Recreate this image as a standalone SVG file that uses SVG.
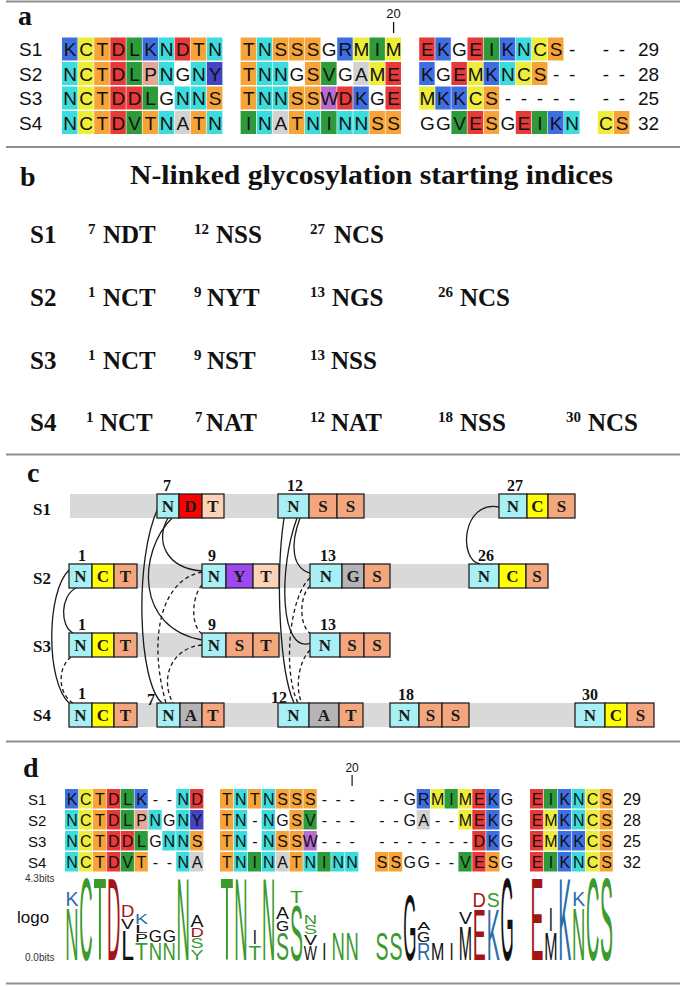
<svg xmlns="http://www.w3.org/2000/svg" xmlns:xlink="http://www.w3.org/1999/xlink" width="685" height="986" viewBox="0 0 685 986">
<style>
.sep{stroke:#8f8f8f;stroke-width:2}
.plab{font-family:"Liberation Serif","Times New Roman",serif;font-weight:bold;font-size:28px;fill:#111}
.ss{font-family:"Liberation Sans",Arial,sans-serif;fill:#111}
.sa{font-size:19px}
.sq{text-anchor:middle}
.sd{font-size:16px}
.tb{font-family:"Liberation Serif","Times New Roman",serif;font-weight:bold;fill:#111}
.bm{font-size:25px}
.bs{font-size:15px}
.fb{fill:#3d6fe3}.fy{fill:#eeee3a}.fo{fill:#f6a338}.fr{fill:#e83838}.fg{fill:#2e9b3a}.fc{fill:#3ddcdc}.fa{fill:#d2d2d2}.fp{fill:#e6a896}.fw{fill:#b86cd0}.fi{fill:#4343c4}
.bar{fill:#d9d9d9}
.bx{stroke:#222;stroke-width:1.3}
.xN{fill:#a8f0f3}.xC{fill:#ffff00}.xD{fill:#ff0000}.xT{fill:#fcd3b6}.xS{fill:#f4a77f}.xY{fill:#9e48ef}.xA{fill:#b4b4b4}
.ct{font-family:"Liberation Serif","Times New Roman",serif;font-weight:bold;font-size:17px;fill:#1a1a1a;text-anchor:middle}
.cn{font-family:"Liberation Serif","Times New Roman",serif;font-weight:bold;font-size:16px;fill:#111}
.cs{fill:none;stroke:#1a1a1a;stroke-width:1.3}
.cd{fill:none;stroke:#1a1a1a;stroke-width:1.3;stroke-dasharray:4 3}
.lg{font-family:"Liberation Sans",Arial,sans-serif;font-size:10px;text-anchor:middle}
.lG{fill:#3a9a2e}.lR{fill:#a31515}.lB{fill:#2a6ca8}.lK{fill:#111}
</style>
<defs>
<rect id="ra" width="15.5" height="23"/>
<rect id="rd" width="13.3" height="19.5"/>
</defs>

<g id="separators">
<line class="sep" x1="6" y1="1.5" x2="680" y2="1.5"/>
<line class="sep" x1="6" y1="147" x2="680" y2="147"/>
<line class="sep" x1="6" y1="454.5" x2="680" y2="454.5"/>
<line class="sep" x1="6" y1="741.5" x2="680" y2="741.5"/>
<line class="sep" x1="6" y1="983.5" x2="680" y2="983.5"/>
</g>

<!-- Panel a -->
<g id="panel-a">
<text class="plab" x="18" y="25">a</text>
<text class="ss sq" x="393.6" y="18" font-size="13">20</text>
<line x1="393.6" y1="22" x2="393.6" y2="33" stroke="#111" stroke-width="1.3"/>
<g id="a-cells">
<use href="#ra" x="62" y="37.5" class="fb"/><use href="#ra" x="78.1" y="37.5" class="fy"/><use href="#ra" x="94.2" y="37.5" class="fo"/><use href="#ra" x="110.3" y="37.5" class="fr"/><use href="#ra" x="126.4" y="37.5" class="fg"/><use href="#ra" x="142.5" y="37.5" class="fb"/><use href="#ra" x="158.6" y="37.5" class="fc"/><use href="#ra" x="174.7" y="37.5" class="fr"/><use href="#ra" x="190.8" y="37.5" class="fo"/><use href="#ra" x="206.9" y="37.5" class="fc"/>
<use href="#ra" x="240.6" y="37.5" class="fo"/><use href="#ra" x="256.7" y="37.5" class="fc"/><use href="#ra" x="272.8" y="37.5" class="fo"/><use href="#ra" x="288.9" y="37.5" class="fo"/><use href="#ra" x="305" y="37.5" class="fo"/><use href="#ra" x="337.2" y="37.5" class="fb"/><use href="#ra" x="353.3" y="37.5" class="fy"/><use href="#ra" x="369.4" y="37.5" class="fg"/><use href="#ra" x="385.5" y="37.5" class="fy"/>
<use href="#ra" x="419.2" y="37.5" class="fr"/><use href="#ra" x="435.3" y="37.5" class="fb"/><use href="#ra" x="467.5" y="37.5" class="fr"/><use href="#ra" x="483.6" y="37.5" class="fg"/><use href="#ra" x="499.7" y="37.5" class="fb"/><use href="#ra" x="515.8" y="37.5" class="fc"/><use href="#ra" x="531.9" y="37.5" class="fy"/><use href="#ra" x="548" y="37.5" class="fo"/>

<use href="#ra" x="62" y="62" class="fc"/><use href="#ra" x="78.1" y="62" class="fy"/><use href="#ra" x="94.2" y="62" class="fo"/><use href="#ra" x="110.3" y="62" class="fr"/><use href="#ra" x="126.4" y="62" class="fg"/><use href="#ra" x="142.5" y="62" class="fp"/><use href="#ra" x="158.6" y="62" class="fc"/><use href="#ra" x="190.8" y="62" class="fc"/><use href="#ra" x="206.9" y="62" class="fi"/>
<use href="#ra" x="240.6" y="62" class="fo"/><use href="#ra" x="256.7" y="62" class="fc"/><use href="#ra" x="272.8" y="62" class="fc"/><use href="#ra" x="305" y="62" class="fo"/><use href="#ra" x="321.1" y="62" class="fg"/><use href="#ra" x="353.3" y="62" class="fa"/><use href="#ra" x="369.4" y="62" class="fy"/><use href="#ra" x="385.5" y="62" class="fr"/>
<use href="#ra" x="419.2" y="62" class="fb"/><use href="#ra" x="451.4" y="62" class="fr"/><use href="#ra" x="467.5" y="62" class="fy"/><use href="#ra" x="483.6" y="62" class="fb"/><use href="#ra" x="499.7" y="62" class="fc"/><use href="#ra" x="515.8" y="62" class="fy"/><use href="#ra" x="531.9" y="62" class="fo"/>

<use href="#ra" x="62" y="86.5" class="fc"/><use href="#ra" x="78.1" y="86.5" class="fy"/><use href="#ra" x="94.2" y="86.5" class="fo"/><use href="#ra" x="110.3" y="86.5" class="fr"/><use href="#ra" x="126.4" y="86.5" class="fr"/><use href="#ra" x="142.5" y="86.5" class="fg"/><use href="#ra" x="174.7" y="86.5" class="fc"/><use href="#ra" x="190.8" y="86.5" class="fc"/><use href="#ra" x="206.9" y="86.5" class="fo"/>
<use href="#ra" x="240.6" y="86.5" class="fo"/><use href="#ra" x="256.7" y="86.5" class="fc"/><use href="#ra" x="272.8" y="86.5" class="fc"/><use href="#ra" x="288.9" y="86.5" class="fo"/><use href="#ra" x="305" y="86.5" class="fo"/><use href="#ra" x="321.1" y="86.5" class="fw"/><use href="#ra" x="337.2" y="86.5" class="fr"/><use href="#ra" x="353.3" y="86.5" class="fb"/><use href="#ra" x="385.5" y="86.5" class="fr"/>
<use href="#ra" x="419.2" y="86.5" class="fy"/><use href="#ra" x="435.3" y="86.5" class="fb"/><use href="#ra" x="451.4" y="86.5" class="fb"/><use href="#ra" x="467.5" y="86.5" class="fy"/><use href="#ra" x="483.6" y="86.5" class="fo"/>

<use href="#ra" x="62" y="111" class="fc"/><use href="#ra" x="78.1" y="111" class="fy"/><use href="#ra" x="94.2" y="111" class="fo"/><use href="#ra" x="110.3" y="111" class="fr"/><use href="#ra" x="126.4" y="111" class="fg"/><use href="#ra" x="142.5" y="111" class="fo"/><use href="#ra" x="158.6" y="111" class="fc"/><use href="#ra" x="174.7" y="111" class="fa"/><use href="#ra" x="190.8" y="111" class="fo"/><use href="#ra" x="206.9" y="111" class="fc"/>
<use href="#ra" x="240.6" y="111" class="fg"/><use href="#ra" x="256.7" y="111" class="fc"/><use href="#ra" x="272.8" y="111" class="fa"/><use href="#ra" x="288.9" y="111" class="fo"/><use href="#ra" x="305" y="111" class="fc"/><use href="#ra" x="321.1" y="111" class="fg"/><use href="#ra" x="337.2" y="111" class="fc"/><use href="#ra" x="353.3" y="111" class="fc"/><use href="#ra" x="369.4" y="111" class="fo"/><use href="#ra" x="385.5" y="111" class="fo"/>
<use href="#ra" x="451.4" y="111" class="fg"/><use href="#ra" x="467.5" y="111" class="fr"/><use href="#ra" x="483.6" y="111" class="fo"/><use href="#ra" x="515.8" y="111" class="fr"/><use href="#ra" x="531.9" y="111" class="fg"/><use href="#ra" x="548" y="111" class="fb"/><use href="#ra" x="564.1" y="111" class="fc"/>
<use href="#ra" x="597.8" y="111" class="fy"/><use href="#ra" x="613.9" y="111" class="fo"/>
</g>
<g id="a-text" class="ss sa">
<text x="19" y="56">S1</text>
<text x="19" y="80.5">S2</text>
<text x="19" y="105">S3</text>
<text x="19" y="129.5">S4</text>
<text class="sq" x="70.1 86.2 102.3 118.4 134.5 150.6 166.7 182.8 198.9 215.0 248.7 264.8 280.9 297.0 313.1 329.2 345.3 361.4 377.5 393.6 427.3 443.4 459.5 475.6 491.7 507.8 523.9 540.0 556.1 572.2 605.9 622.0" y="56">KCTDLKNDTNTNSSSGRMIMEKGEIKNCS---</text>
<text class="sq" x="70.1 86.2 102.3 118.4 134.5 150.6 166.7 182.8 198.9 215.0 248.7 264.8 280.9 297.0 313.1 329.2 345.3 361.4 377.5 393.6 427.3 443.4 459.5 475.6 491.7 507.8 523.9 540.0 556.1 572.2 605.9 622.0" y="80.5">NCTDLPNGNYTNNGSVGAMEKGEMKNCS----</text>
<text class="sq" x="70.1 86.2 102.3 118.4 134.5 150.6 166.7 182.8 198.9 215.0 248.7 264.8 280.9 297.0 313.1 329.2 345.3 361.4 377.5 393.6 427.3 443.4 459.5 475.6 491.7 507.8 523.9 540.0 556.1 572.2 605.9 622.0" y="105">NCTDDLGNNSTNNSSWDKGEMKKCS-------</text>
<text class="sq" x="70.1 86.2 102.3 118.4 134.5 150.6 166.7 182.8 198.9 215.0 248.7 264.8 280.9 297.0 313.1 329.2 345.3 361.4 377.5 393.6 427.3 443.4 459.5 475.6 491.7 507.8 523.9 540.0 556.1 572.2 605.9 622.0" y="129.5">NCTDVTNATNINATNINNSSGGVESGEIKNCS</text>
<text x="638" y="56">29</text>
<text x="638" y="80.5">28</text>
<text x="638" y="105">25</text>
<text x="638" y="129.5">32</text>
</g>
</g>

<!-- Panel b -->
<g id="panel-b" class="tb">
<text class="plab" x="20" y="186">b</text>
<text x="130" y="184" font-size="28" textLength="483" lengthAdjust="spacingAndGlyphs">N-linked glycosylation starting indices</text>
<g id="b-S1" class="bm">
<text x="30" y="243">S1</text>
<text class="bs" x="88" y="234">7</text><text x="103" y="243">NDT</text>
<text class="bs" x="194" y="234">12</text><text x="216" y="243">NSS</text>
<text class="bs" x="310" y="234">27</text><text x="334" y="243">NCS</text>
</g>
<g id="b-S2" class="bm">
<text x="30" y="306">S2</text>
<text class="bs" x="88" y="297">1</text><text x="103" y="306">NCT</text>
<text class="bs" x="194" y="297">9</text><text x="207" y="306">NYT</text>
<text class="bs" x="310" y="297">13</text><text x="332" y="306">NGS</text>
<text class="bs" x="438" y="297">26</text><text x="460" y="306">NCS</text>
</g>
<g id="b-S3" class="bm">
<text x="30" y="369">S3</text>
<text class="bs" x="88" y="360">1</text><text x="103" y="369">NCT</text>
<text class="bs" x="194" y="360">9</text><text x="207" y="369">NST</text>
<text class="bs" x="310" y="360">13</text><text x="331" y="369">NSS</text>
</g>
<g id="b-S4" class="bm">
<text x="30" y="431">S4</text>
<text class="bs" x="86" y="422">1</text><text x="100" y="431">NCT</text>
<text class="bs" x="195" y="422">7</text><text x="206" y="431">NAT</text>
<text class="bs" x="310" y="422">12</text><text x="331" y="431">NAT</text>
<text class="bs" x="438" y="422">18</text><text x="460" y="431">NSS</text>
<text class="bs" x="566" y="422">30</text><text x="588" y="431">NCS</text>
</g>
</g>

<!-- Panel c -->
<g id="panel-c">
<text class="plab" x="27" y="482">c</text>
<g class="tb" font-size="17">
<text x="33" y="515">S1</text>
<text x="33" y="584">S2</text>
<text x="33" y="652">S3</text>
<text x="33" y="721">S4</text>
</g>
<g id="bars">
<rect class="bar" x="70" y="494" width="505" height="24"/>
<rect class="bar" x="70" y="564" width="478" height="24"/>
<rect class="bar" x="70" y="633" width="320" height="24"/>
<rect class="bar" x="70" y="703" width="584" height="24"/>
</g>
<g id="connectors">
<path class="cs" d="M76,588 C60,596 60,626 73,633"/>
<path class="cs" d="M69,570 C46,592 46,682 69,703"/>
<path class="cd" d="M71,657 C57,668 58,694 73,703"/>
<path class="cs" d="M168,518 C155,540 165,568 202,571"/>
<path class="cs" d="M172,518 C138,552 135,628 202,640"/>
<path class="cs" d="M158,508 C134,560 138,682 162,703"/>
<path class="cd" d="M202,585 C192,596 190,625 202,634"/>
<path class="cd" d="M202,572 C160,580 148,640 166,703"/>
<path class="cd" d="M202,645 C170,648 160,680 173,703"/>
<path class="cs" d="M300,518 C290,545 292,568 310,573"/>
<path class="cs" d="M297,518 C278,570 280,655 311,643"/>
<path class="cs" d="M284,518 C275,580 280,672 294,703"/>
<path class="cd" d="M310,586 C298,598 300,628 311,634"/>
<path class="cd" d="M310,578 C290,595 282,670 298,703"/>
<path class="cd" d="M310,650 C298,662 295,690 302,703"/>
<path class="cs" d="M499,507 C462,500 458,560 480,564"/>
</g>
<g id="S1-7">
<text class="cn" x="163" y="491">7</text>
<rect class="bx xN" x="157" y="494" width="22" height="24"/><rect class="bx xD" x="179" y="494" width="23" height="24"/><rect class="bx xT" x="202" y="494" width="22" height="24"/>
<text class="ct" x="168" y="512">N</text><text class="ct" x="190.5" y="512">D</text><text class="ct" x="213" y="512">T</text>
</g>
<g id="S1-12">
<text class="cn" x="287" y="491">12</text>
<rect class="bx xN" x="278" y="494" width="31" height="24"/><rect class="bx xS" x="309" y="494" width="28" height="24"/><rect class="bx xS" x="337" y="494" width="27" height="24"/>
<text class="ct" x="293.5" y="512">N</text><text class="ct" x="323" y="512">S</text><text class="ct" x="350.5" y="512">S</text>
</g>
<g id="S1-27">
<text class="cn" x="507" y="491">27</text>
<rect class="bx xN" x="499" y="494" width="28" height="24"/><rect class="bx xC" x="527" y="494" width="21" height="24"/><rect class="bx xS" x="548" y="494" width="27" height="24"/>
<text class="ct" x="513" y="512">N</text><text class="ct" x="537.5" y="512">C</text><text class="ct" x="561.5" y="512">S</text>
</g>
<g id="S2-1">
<text class="cn" x="78" y="561">1</text>
<rect class="bx xN" x="69" y="564" width="23" height="24"/><rect class="bx xC" x="92" y="564" width="22" height="24"/><rect class="bx xS" x="114" y="564" width="23" height="24"/>
<text class="ct" x="80.5" y="582">N</text><text class="ct" x="103" y="582">C</text><text class="ct" x="125.5" y="582">T</text>
</g>
<g id="S2-9">
<text class="cn" x="208" y="561">9</text>
<rect class="bx xN" x="202" y="564" width="24" height="24"/><rect class="bx xY" x="226" y="564" width="27" height="24"/><rect class="bx xT" x="253" y="564" width="26" height="24"/>
<text class="ct" x="214" y="582">N</text><text class="ct" x="239.5" y="582">Y</text><text class="ct" x="266" y="582">T</text>
</g>
<g id="S2-13">
<text class="cn" x="320" y="561">13</text>
<rect class="bx xN" x="310" y="564" width="32" height="24"/><rect class="bx xA" x="342" y="564" width="22" height="24"/><rect class="bx xS" x="364" y="564" width="26" height="24"/>
<text class="ct" x="326" y="582">N</text><text class="ct" x="353" y="582">G</text><text class="ct" x="377" y="582">S</text>
</g>
<g id="S2-26">
<text class="cn" x="478" y="561">26</text>
<rect class="bx xN" x="469" y="564" width="30" height="24"/><rect class="bx xC" x="499" y="564" width="27" height="24"/><rect class="bx xS" x="526" y="564" width="22" height="24"/>
<text class="ct" x="484" y="582">N</text><text class="ct" x="512.5" y="582">C</text><text class="ct" x="537" y="582">S</text>
</g>
<g id="S3-1">
<text class="cn" x="78" y="630">1</text>
<rect class="bx xN" x="69" y="633" width="23" height="24"/><rect class="bx xC" x="92" y="633" width="22" height="24"/><rect class="bx xS" x="114" y="633" width="23" height="24"/>
<text class="ct" x="80.5" y="651">N</text><text class="ct" x="103" y="651">C</text><text class="ct" x="125.5" y="651">T</text>
</g>
<g id="S3-9">
<text class="cn" x="208" y="630">9</text>
<rect class="bx xN" x="202" y="633" width="24" height="24"/><rect class="bx xS" x="226" y="633" width="27" height="24"/><rect class="bx xS" x="253" y="633" width="26" height="24"/>
<text class="ct" x="214" y="651">N</text><text class="ct" x="239.5" y="651">S</text><text class="ct" x="266" y="651">T</text>
</g>
<g id="S3-13">
<text class="cn" x="320" y="630">13</text>
<rect class="bx xN" x="310" y="633" width="30" height="24"/><rect class="bx xS" x="340" y="633" width="24" height="24"/><rect class="bx xS" x="364" y="633" width="26" height="24"/>
<text class="ct" x="325" y="651">N</text><text class="ct" x="352" y="651">S</text><text class="ct" x="377" y="651">S</text>
</g>
<g id="S4-1">
<text class="cn" x="78" y="699">1</text>
<rect class="bx xN" x="69" y="703" width="23" height="24"/><rect class="bx xC" x="92" y="703" width="22" height="24"/><rect class="bx xS" x="114" y="703" width="23" height="24"/>
<text class="ct" x="80.5" y="721">N</text><text class="ct" x="103" y="721">C</text><text class="ct" x="125.5" y="721">T</text>
</g>
<g id="S4-7">
<text class="cn" x="147" y="705">7</text>
<rect class="bx xN" x="157" y="703" width="23" height="24"/><rect class="bx xA" x="180" y="703" width="22" height="24"/><rect class="bx xS" x="202" y="703" width="22" height="24"/>
<text class="ct" x="168.5" y="721">N</text><text class="ct" x="191" y="721">A</text><text class="ct" x="213" y="721">T</text>
</g>
<g id="S4-12">
<text class="cn" x="271" y="703">12</text>
<rect class="bx xN" x="278" y="703" width="31" height="24"/><rect class="bx xA" x="309" y="703" width="30" height="24"/><rect class="bx xS" x="339" y="703" width="24" height="24"/>
<text class="ct" x="293.5" y="721">N</text><text class="ct" x="324" y="721">A</text><text class="ct" x="351" y="721">T</text>
</g>
<g id="S4-18">
<text class="cn" x="398" y="700">18</text>
<rect class="bx xN" x="390" y="703" width="29" height="24"/><rect class="bx xS" x="419" y="703" width="23" height="24"/><rect class="bx xS" x="442" y="703" width="27" height="24"/>
<text class="ct" x="404.5" y="721">N</text><text class="ct" x="430.5" y="721">S</text><text class="ct" x="455.5" y="721">S</text>
</g>
<g id="S4-30">
<text class="cn" x="582" y="700">30</text>
<rect class="bx xN" x="575" y="703" width="30" height="24"/><rect class="bx xC" x="605" y="703" width="22" height="24"/><rect class="bx xS" x="627" y="703" width="27" height="24"/>
<text class="ct" x="590" y="721">N</text><text class="ct" x="616" y="721">C</text><text class="ct" x="640.5" y="721">S</text>
</g>
</g>

<!-- Panel d -->
<g id="panel-d">
<text class="plab" x="23" y="777">d</text>
<text class="ss sq" x="352.1" y="772" font-size="12">20</text>
<line x1="352.1" y1="775" x2="352.1" y2="786" stroke="#111" stroke-width="1.2"/>
<g id="d-cells">
<use href="#rd" x="65" y="789" class="fb"/><use href="#rd" x="78.9" y="789" class="fy"/><use href="#rd" x="92.8" y="789" class="fo"/><use href="#rd" x="106.7" y="789" class="fr"/><use href="#rd" x="120.6" y="789" class="fg"/><use href="#rd" x="134.5" y="789" class="fb"/><use href="#rd" x="176.2" y="789" class="fc"/><use href="#rd" x="190.1" y="789" class="fr"/>
<use href="#rd" x="220" y="789" class="fo"/><use href="#rd" x="233.9" y="789" class="fc"/><use href="#rd" x="247.8" y="789" class="fo"/><use href="#rd" x="261.7" y="789" class="fc"/><use href="#rd" x="275.6" y="789" class="fo"/><use href="#rd" x="289.5" y="789" class="fo"/><use href="#rd" x="303.4" y="789" class="fo"/>
<use href="#rd" x="416.7" y="789" class="fb"/><use href="#rd" x="430.6" y="789" class="fy"/><use href="#rd" x="444.5" y="789" class="fg"/><use href="#rd" x="458.4" y="789" class="fy"/><use href="#rd" x="472.3" y="789" class="fr"/><use href="#rd" x="486.2" y="789" class="fb"/>
<use href="#rd" x="530" y="789" class="fr"/><use href="#rd" x="543.9" y="789" class="fg"/><use href="#rd" x="557.8" y="789" class="fb"/><use href="#rd" x="571.7" y="789" class="fc"/><use href="#rd" x="585.6" y="789" class="fy"/><use href="#rd" x="599.5" y="789" class="fo"/>

<use href="#rd" x="65" y="810" class="fc"/><use href="#rd" x="78.9" y="810" class="fy"/><use href="#rd" x="92.8" y="810" class="fo"/><use href="#rd" x="106.7" y="810" class="fr"/><use href="#rd" x="120.6" y="810" class="fg"/><use href="#rd" x="134.5" y="810" class="fp"/><use href="#rd" x="148.4" y="810" class="fc"/><use href="#rd" x="176.2" y="810" class="fc"/><use href="#rd" x="190.1" y="810" class="fi"/>
<use href="#rd" x="220" y="810" class="fo"/><use href="#rd" x="233.9" y="810" class="fc"/><use href="#rd" x="261.7" y="810" class="fc"/><use href="#rd" x="289.5" y="810" class="fo"/><use href="#rd" x="303.4" y="810" class="fg"/>
<use href="#rd" x="416.7" y="810" class="fa"/><use href="#rd" x="458.4" y="810" class="fy"/><use href="#rd" x="472.3" y="810" class="fr"/><use href="#rd" x="486.2" y="810" class="fb"/>
<use href="#rd" x="530" y="810" class="fr"/><use href="#rd" x="543.9" y="810" class="fy"/><use href="#rd" x="557.8" y="810" class="fb"/><use href="#rd" x="571.7" y="810" class="fc"/><use href="#rd" x="585.6" y="810" class="fy"/><use href="#rd" x="599.5" y="810" class="fo"/>

<use href="#rd" x="65" y="831" class="fc"/><use href="#rd" x="78.9" y="831" class="fy"/><use href="#rd" x="92.8" y="831" class="fo"/><use href="#rd" x="106.7" y="831" class="fr"/><use href="#rd" x="120.6" y="831" class="fr"/><use href="#rd" x="134.5" y="831" class="fg"/><use href="#rd" x="162.3" y="831" class="fc"/><use href="#rd" x="176.2" y="831" class="fc"/><use href="#rd" x="190.1" y="831" class="fo"/>
<use href="#rd" x="220" y="831" class="fo"/><use href="#rd" x="233.9" y="831" class="fc"/><use href="#rd" x="261.7" y="831" class="fc"/><use href="#rd" x="275.6" y="831" class="fo"/><use href="#rd" x="289.5" y="831" class="fo"/><use href="#rd" x="303.4" y="831" class="fw"/>
<use href="#rd" x="472.3" y="831" class="fr"/><use href="#rd" x="486.2" y="831" class="fb"/>
<use href="#rd" x="530" y="831" class="fr"/><use href="#rd" x="543.9" y="831" class="fy"/><use href="#rd" x="557.8" y="831" class="fb"/><use href="#rd" x="571.7" y="831" class="fb"/><use href="#rd" x="585.6" y="831" class="fy"/><use href="#rd" x="599.5" y="831" class="fo"/>

<use href="#rd" x="65" y="852" class="fc"/><use href="#rd" x="78.9" y="852" class="fy"/><use href="#rd" x="92.8" y="852" class="fo"/><use href="#rd" x="106.7" y="852" class="fr"/><use href="#rd" x="120.6" y="852" class="fg"/><use href="#rd" x="134.5" y="852" class="fo"/><use href="#rd" x="176.2" y="852" class="fc"/><use href="#rd" x="190.1" y="852" class="fa"/>
<use href="#rd" x="220" y="852" class="fo"/><use href="#rd" x="233.9" y="852" class="fc"/><use href="#rd" x="247.8" y="852" class="fg"/><use href="#rd" x="261.7" y="852" class="fc"/><use href="#rd" x="275.6" y="852" class="fa"/><use href="#rd" x="289.5" y="852" class="fo"/><use href="#rd" x="303.4" y="852" class="fc"/><use href="#rd" x="317.3" y="852" class="fg"/><use href="#rd" x="331.2" y="852" class="fc"/><use href="#rd" x="345.1" y="852" class="fc"/>
<use href="#rd" x="375" y="852" class="fo"/><use href="#rd" x="388.9" y="852" class="fo"/><use href="#rd" x="458.4" y="852" class="fg"/><use href="#rd" x="472.3" y="852" class="fr"/><use href="#rd" x="486.2" y="852" class="fo"/>
<use href="#rd" x="530" y="852" class="fr"/><use href="#rd" x="543.9" y="852" class="fg"/><use href="#rd" x="557.8" y="852" class="fb"/><use href="#rd" x="571.7" y="852" class="fc"/><use href="#rd" x="585.6" y="852" class="fy"/><use href="#rd" x="599.5" y="852" class="fo"/>
</g>
<g id="d-text" class="ss sd">
<text x="28" y="804.5" font-size="15">S1</text>
<text x="28" y="825.5" font-size="15">S2</text>
<text x="28" y="846.5" font-size="15">S3</text>
<text x="28" y="867.5" font-size="15">S4</text>
<text class="sq" x="72.0 85.9 99.8 113.7 127.6 141.5 155.4 169.3 183.2 197.1 227.0 240.9 254.8 268.7 282.6 296.5 310.4 324.3 338.2 352.1 382.0 395.9 409.8 423.7 437.6 451.5 465.4 479.3 493.2 507.1 537.0 550.9 564.8 578.7 592.6 606.5" y="804.5">KCTDLK--NDTNTNSSS-----GRMIMEKGEIKNCS</text>
<text class="sq" x="72.0 85.9 99.8 113.7 127.6 141.5 155.4 169.3 183.2 197.1 227.0 240.9 254.8 268.7 282.6 296.5 310.4 324.3 338.2 352.1 382.0 395.9 409.8 423.7 437.6 451.5 465.4 479.3 493.2 507.1 537.0 550.9 564.8 578.7 592.6 606.5" y="825.5">NCTDLPNGNYTN-NGSV-----GA--MEKGEMKNCS</text>
<text class="sq" x="72.0 85.9 99.8 113.7 127.6 141.5 155.4 169.3 183.2 197.1 227.0 240.9 254.8 268.7 282.6 296.5 310.4 324.3 338.2 352.1 382.0 395.9 409.8 423.7 437.6 451.5 465.4 479.3 493.2 507.1 537.0 550.9 564.8 578.7 592.6 606.5" y="846.5">NCTDDLGNNSTN-NSSW----------DKGEMKKCS</text>
<text class="sq" x="72.0 85.9 99.8 113.7 127.6 141.5 155.4 169.3 183.2 197.1 227.0 240.9 254.8 268.7 282.6 296.5 310.4 324.3 338.2 352.1 382.0 395.9 409.8 423.7 437.6 451.5 465.4 479.3 493.2 507.1 537.0 550.9 564.8 578.7 592.6 606.5" y="867.5">NCTDVT--NATNINATNINNSSGG--VESGEIKNCS</text>
<text x="623" y="804.5">29</text>
<text x="623" y="825.5">28</text>
<text x="623" y="846.5">25</text>
<text x="623" y="867.5">32</text>
<text x="25" y="882" font-size="10" fill="#333">4.3bits</text>
<text x="17" y="923" font-size="17">logo</text>
<text x="25" y="961" font-size="10" fill="#333">0.0bits</text>
</g>
<g id="logo">
<text class="lg lG" transform="translate(72,960) scale(1.85,7.4)">N</text>
<text class="lg lB" transform="translate(72,906) scale(1.95,2.09)">K</text>
<text class="lg lG" transform="translate(85.9,960) scale(1.85,11.73)">C</text>
<text class="lg lG" transform="translate(99.8,960) scale(2.1,11.73)">T</text>
<text class="lg lR" transform="translate(113.7,960) scale(1.85,11.73)">D</text>
<text class="lg lK" transform="translate(127.6,960) scale(2.3,4.19)">L</text>
<text class="lg lK" transform="translate(127.6,929) scale(1.95,1.54)">V</text>
<text class="lg lR" transform="translate(127.6,917) scale(1.85,1.68)">D</text>
<text class="lg lG" transform="translate(141.5,960) scale(2.1,2.37)">T</text>
<text class="lg lK" transform="translate(141.5,942) scale(1.95,1.12)">P</text>
<text class="lg lK" transform="translate(141.5,933) scale(2.3,1.12)">L</text>
<text class="lg lB" transform="translate(141.5,924) scale(1.95,1.54)">K</text>
<text class="lg lG" transform="translate(155.4,960) scale(1.85,2.37)">N</text>
<text class="lg lK" transform="translate(155.4,942) scale(1.7,1.68)">G</text>
<text class="lg lG" transform="translate(169.3,960) scale(1.85,2.37)">N</text>
<text class="lg lK" transform="translate(169.3,942) scale(1.7,1.68)">G</text>
<text class="lg lG" transform="translate(183.2,960) scale(1.85,11.73)">N</text>
<text class="lg lG" transform="translate(197.1,960) scale(1.95,1.54)">Y</text>
<text class="lg lG" transform="translate(197.1,948) scale(1.95,1.4)">S</text>
<text class="lg lR" transform="translate(197.1,937) scale(1.85,1.26)">D</text>
<text class="lg lK" transform="translate(197.1,927) scale(1.95,1.68)">A</text>
<text class="lg lG" transform="translate(227,960) scale(2.1,11.73)">T</text>
<text class="lg lG" transform="translate(240.9,960) scale(1.85,11.73)">N</text>
<text class="lg lG" transform="translate(254.8,960) scale(2.1,2.09)">T</text>
<text class="lg lK" transform="translate(254.8,944) scale(1.5,2.09)">I</text>
<text class="lg lG" transform="translate(268.7,960) scale(1.85,11.73)">N</text>
<text class="lg lG" transform="translate(282.6,960) scale(1.95,3.91)">S</text>
<text class="lg lK" transform="translate(282.6,931) scale(1.7,1.54)">G</text>
<text class="lg lK" transform="translate(282.6,919) scale(1.95,1.68)">A</text>
<text class="lg lG" transform="translate(296.5,960) scale(1.95,7.82)">S</text>
<text class="lg lG" transform="translate(296.5,903) scale(2.1,1.68)">T</text>
<text class="lg lK" transform="translate(310.4,960) scale(1.4,1.96)">W</text>
<text class="lg lK" transform="translate(310.4,945) scale(1.95,1.4)">V</text>
<text class="lg lG" transform="translate(310.4,934) scale(1.95,1.26)">S</text>
<text class="lg lG" transform="translate(310.4,924) scale(1.85,1.26)">N</text>
<text class="lg lK" transform="translate(324.3,960) scale(1.5,2.37)">I</text>
<text class="lg lG" transform="translate(338.2,960) scale(1.85,3.91)">N</text>
<text class="lg lG" transform="translate(352.1,960) scale(1.85,3.91)">N</text>
<text class="lg lG" transform="translate(382,960) scale(1.95,3.91)">S</text>
<text class="lg lG" transform="translate(395.9,960) scale(1.95,3.91)">S</text>
<text class="lg lK" transform="translate(409.8,960) scale(1.7,9.36)">G</text>
<text class="lg lB" transform="translate(423.7,960) scale(1.85,2.37)">R</text>
<text class="lg lK" transform="translate(423.7,942) scale(1.7,1.54)">G</text>
<text class="lg lK" transform="translate(423.7,930) scale(1.95,1.12)">A</text>
<text class="lg lK" transform="translate(437.6,960) scale(1.6,2.37)">M</text>
<text class="lg lK" transform="translate(451.5,960) scale(1.5,2.37)">I</text>
<text class="lg lK" transform="translate(465.4,960) scale(1.6,4.89)">M</text>
<text class="lg lK" transform="translate(465.4,924) scale(1.95,1.68)">V</text>
<text class="lg lR" transform="translate(479.3,960) scale(1.95,7.26)">E</text>
<text class="lg lR" transform="translate(479.3,907) scale(1.85,2.09)">D</text>
<text class="lg lB" transform="translate(493.2,960) scale(1.95,7.26)">K</text>
<text class="lg lG" transform="translate(493.2,907) scale(1.95,2.09)">S</text>
<text class="lg lK" transform="translate(507.1,960) scale(1.7,11.73)">G</text>
<text class="lg lR" transform="translate(537,960) scale(1.95,11.73)">E</text>
<text class="lg lK" transform="translate(550.9,960) scale(1.6,3.91)">M</text>
<text class="lg lK" transform="translate(550.9,931) scale(1.5,3.35)">I</text>
<text class="lg lB" transform="translate(564.8,960) scale(1.95,11.73)">K</text>
<text class="lg lG" transform="translate(578.7,960) scale(1.85,7.4)">N</text>
<text class="lg lB" transform="translate(578.7,906) scale(1.95,1.96)">K</text>
<text class="lg lG" transform="translate(592.6,960) scale(1.85,11.73)">C</text>
<text class="lg lG" transform="translate(606.5,960) scale(1.95,11.73)">S</text>
</g>
</g>
</svg>
